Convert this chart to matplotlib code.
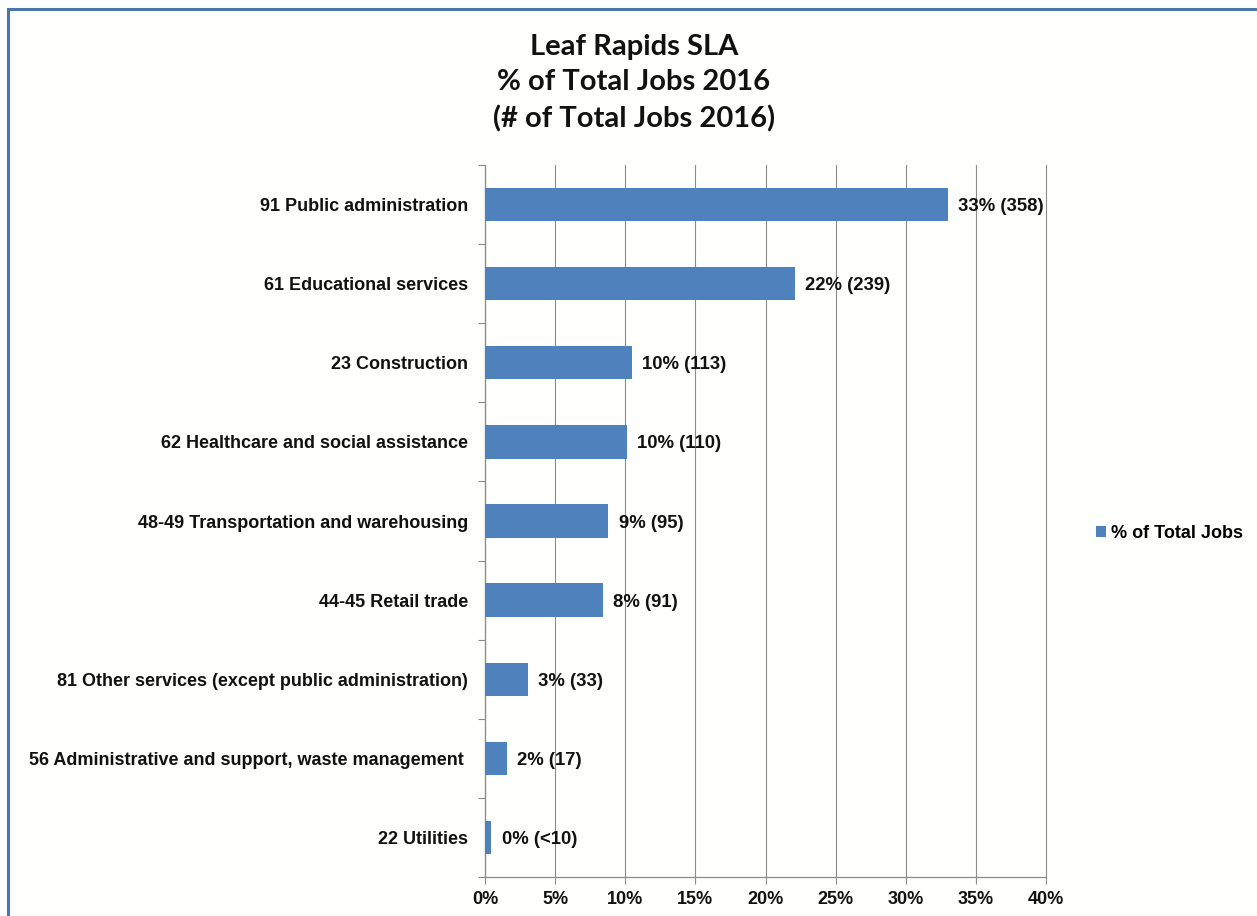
import matplotlib
matplotlib.use("Agg")
import matplotlib.pyplot as plt
from matplotlib.patches import Rectangle, Patch
from matplotlib.ticker import FixedLocator, FuncFormatter

categories = [
    "91 Public administration",
    "61 Educational services",
    "23 Construction",
    "62 Healthcare and social assistance",
    "48-49 Transportation and warehousing",
    "44-45 Retail trade",
    "81 Other services (except public administration)",
    "56 Administrative and support, waste management ",
    "22 Utilities",
]
pct_values = [33.0, 22.1, 10.45, 10.1, 8.78, 8.38, 3.05, 1.55, 0.45]
data_labels = ["33% (358)", "22% (239)", "10% (113)", "10% (110)", "9% (95)",
               "8% (91)", "3% (33)", "2% (17)", "0% (<10)"]
x_ticks = [0, 5, 10, 15, 20, 25, 30, 35, 40]
title_lines = ["Leaf Rapids SLA", "% of Total Jobs 2016", "(# of Total Jobs 2016)"]
legend_label = "% of Total Jobs"

BAR = "#4F81BD"
GRID = "#8c8c8c"
FONT = "Liberation Sans"

W, H = 1257, 916
fig = plt.figure(figsize=(W / 100, H / 100), dpi=100)
fig.patch.set_facecolor("white")

# outer frame
frame = Rectangle((8 / W, -0.05), 1.1, 1 - 9 / H + 0.05, transform=fig.transFigure,
                  facecolor="#fefefc", edgecolor="#4a78ad", linewidth=2.2, zorder=-5)
fig.patches.append(frame)

ax = fig.add_axes([485 / W, 1 - 877 / H, (1046 - 485) / W, (877 - 165) / H])
ax.set_facecolor("none")
ax.set_zorder(2)

ypos = list(range(len(categories)))
ax.barh(ypos, pct_values, height=0.42, color=BAR, zorder=3)
ax.set_ylim(len(categories) - 0.5, -0.5)
ax.set_xlim(0, 40)

for y, v, lab in zip(ypos, pct_values, data_labels):
    ax.annotate(lab, (v, y), xytext=(7.5, -1.5), textcoords="offset points",
                ha="left", va="center", fontsize=13.3, fontweight="bold",
                family=FONT, color="#111111", zorder=4)

ax.set_yticks(ypos)
ax.set_yticklabels(categories, fontsize=13, fontweight="bold", family=FONT, color="#111111")
ax.tick_params(axis="y", which="major", length=0, pad=12)
ax.yaxis.set_minor_locator(FixedLocator([i - 0.5 for i in range(len(categories) + 1)]))
ax.tick_params(axis="y", which="minor", length=5, width=0.8, color=GRID, direction="out")

ax.set_xticks(x_ticks)
ax.xaxis.set_major_formatter(FuncFormatter(lambda v, p: f"{int(v)}%"))
for t in ax.get_xticklabels():
    t.set_fontsize(13)
    t.set_fontweight("bold")
    t.set_family(FONT)
    t.set_color("#111111")
ax.tick_params(axis="x", which="major", length=5, width=0.8, color=GRID, pad=5)

ax.grid(axis="x", color=GRID, linewidth=0.8, zorder=1)
for gl in ax.xaxis.get_gridlines():
    gl.set_clip_on(False)
ax.set_axisbelow(True)
for s in ["top", "right"]:
    ax.spines[s].set_visible(False)
for s in ["left", "bottom"]:
    ax.spines[s].set_color(GRID)
    ax.spines[s].set_linewidth(0.9)

fig.text(634 / W, 1 - 83 / H, "\n".join(title_lines), ha="center", va="center",
         fontsize=21, fontweight="bold", family="Lato", linespacing=1.45, color="#111111")

handle = Patch(facecolor=BAR, edgecolor="none")
fig.legend([handle], [legend_label], loc="center left",
           bbox_to_anchor=(1096 / W, 1 - 533 / H), frameon=False,
           borderpad=0, borderaxespad=0, handlelength=0.55, handleheight=0.55,
           handletextpad=0.3, prop={"family": FONT, "weight": "bold", "size": 13})

fig.savefig("out.png", dpi=100, facecolor=fig.get_facecolor())
